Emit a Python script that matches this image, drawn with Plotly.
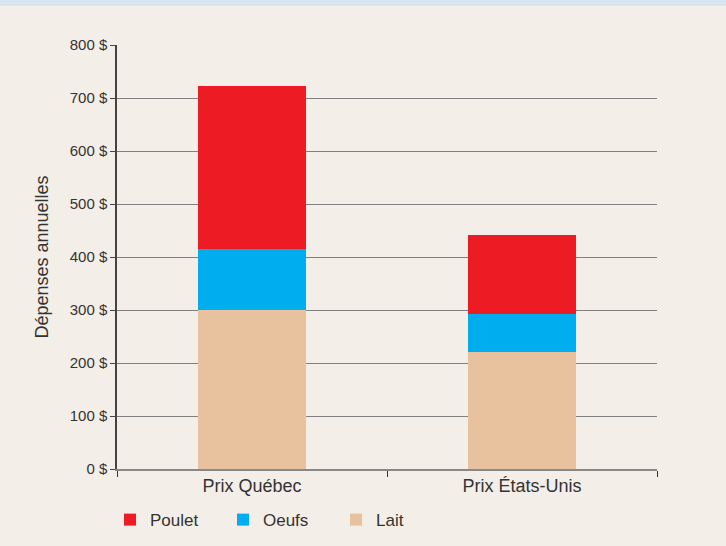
import plotly.graph_objects as go

categories = ["Prix Québec", "Prix États-Unis"]
lait = [300, 221]
oeufs = [115, 71]
poulet = [307, 149]
y_ticks = [0, 100, 200, 300, 400, 500, 600, 700, 800]
y_tick_labels = [f"{v} $" for v in y_ticks]

BG = "#f3eee8"
font_family = "Liberation Sans, Arial, sans-serif"

fig = go.Figure()
fig.add_trace(go.Bar(name="Lait", x=categories, y=lait, marker=dict(color="#e8c19e", line=dict(width=0)), width=0.4))
fig.add_trace(go.Bar(name="Oeufs", x=categories, y=oeufs, marker=dict(color="#00aeef", line=dict(width=0)), width=0.4))
fig.add_trace(go.Bar(name="Poulet", x=categories, y=poulet, marker=dict(color="#ed1c24", line=dict(width=0)), width=0.4))

fig.update_layout(
    barmode="stack",
    width=726, height=546,
    margin=dict(l=117, r=69, t=45, b=77, autoexpand=False),
    paper_bgcolor=BG, plot_bgcolor=BG,
    font=dict(family=font_family, color="#333333"),
    showlegend=True,
    legend=dict(orientation="h", traceorder="reversed", x=-0.013, xanchor="left",
                y=-0.078, yanchor="top", font=dict(size=17, color="#333333"),
                entrywidth=68, bgcolor="rgba(0,0,0,0)"),
    xaxis=dict(showline=True, linecolor="#888888", linewidth=1.5,
               ticks="outside", tickson="boundaries", ticklen=6, tickcolor="#333333",
               tickfont=dict(size=18, color="#333333"), showgrid=False),
    yaxis=dict(range=[0, 800], tickvals=y_ticks, ticktext=y_tick_labels,
               showline=True, linecolor="#444444", linewidth=1.5,
               ticks="outside", ticklen=5, tickcolor="#444444",
               tickfont=dict(size=15, color="#333333"),
               showgrid=True, gridcolor="#808080", gridwidth=1, zeroline=False,
               title=dict(text="Dépenses annuelles", font=dict(size=18, color="#333333"), standoff=16)),
    shapes=[
        dict(type="rect", xref="paper", yref="paper", x0=-1, x1=2, y0=1 + 39 / 424, y1=1 + 46 / 424,
             fillcolor="#d8e6f3", line=dict(width=0), layer="below"),
    ],
)

fig.write_html("out.html")
